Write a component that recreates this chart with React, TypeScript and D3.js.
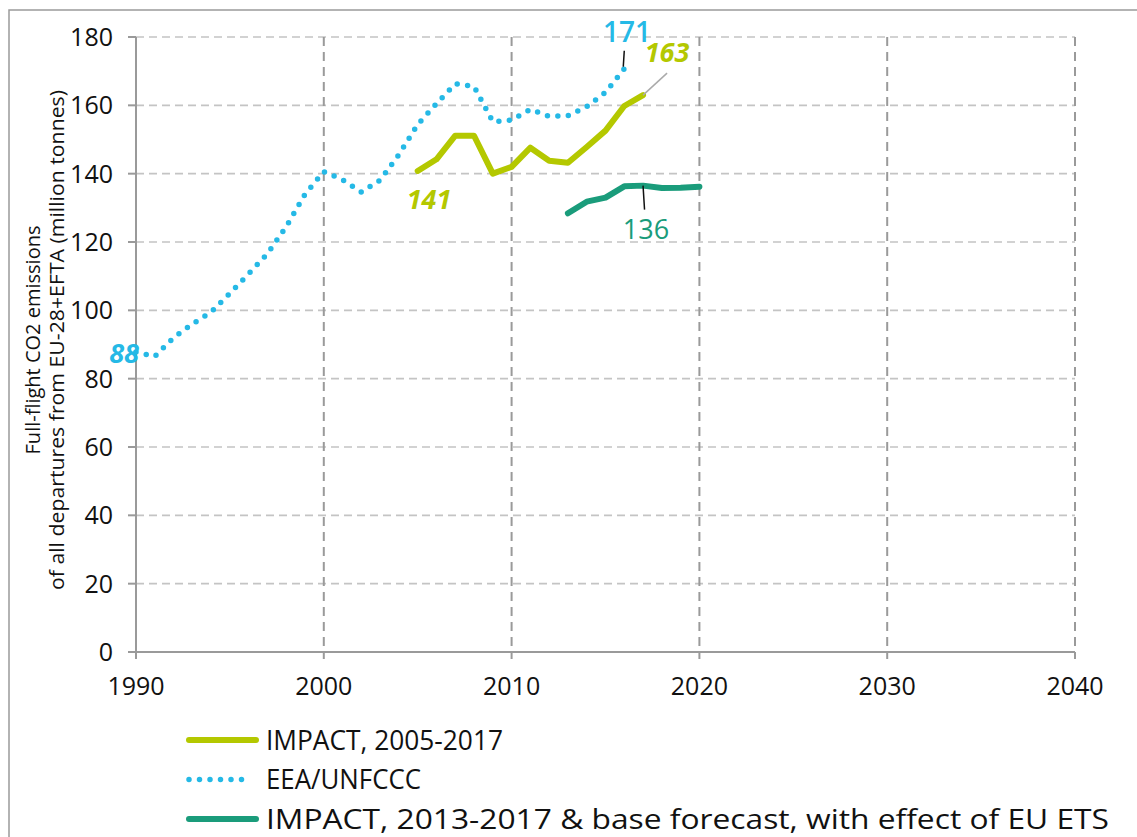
import React from "react";
import * as d3 from "d3";

const eeaYears = [1990,1991,1992,1993,1994,1995,1996,1997,1998,1999,2000,2001,2002,2003,2004,2005,2006,2007,2008,2009,2010,2011,2012,2013,2014,2015,2016];
const eeaValues = [87.8,86.5,92,96,99.5,105,110.7,116.6,124.5,134,140.6,138.2,134.6,138.1,145.6,154.4,160.5,166.3,165.5,155.2,155.7,158.8,156.8,157,159.6,163.8,170.7];

const impactYears = [2005,2006,2007,2008,2009,2010,2011,2012,2013,2014,2015,2016,2017];
const impactValues = [140.8,144.2,151.1,151.1,140,142,147.6,143.8,143.2,147.8,152.6,159.8,163];

const forecastYears = [2013,2014,2015,2016,2017,2018,2019,2020];
const forecastValues = [128.4,131.8,133,136.3,136.5,135.8,135.9,136.2];

const yTicks = [0,20,40,60,80,100,120,140,160,180];
const xTicks = [1990,2000,2010,2020,2030,2040];

const LIME = "#b4c800";
const CYAN = "#25b9e6";
const TEAL = "#1a9c7b";
const FONT = "'Open Sans', 'Noto Sans', sans-serif";

const legendItems = [
  { label: "IMPACT, 2005-2017", color: LIME, dotted: false, len: 237 },
  { label: "EEA/UNFCCC", color: CYAN, dotted: true, len: 155 },
  { label: "IMPACT, 2013-2017 & base forecast, with effect of EU ETS", color: TEAL, dotted: false, len: 843 },
];

export default function App() {
  const x = d3.scaleLinear().domain([1990, 2040]).range([136, 1075]);
  const y = d3.scaleLinear().domain([0, 180]).range([652, 37]);
  const line = d3.line<[number, number]>().x(d => x(d[0])).y(d => y(d[1]));

  const eea = line(eeaYears.map((yr, i) => [yr, eeaValues[i]]))!;
  const imp = line(impactYears.map((yr, i) => [yr, impactValues[i]]))!;
  const fc = line(forecastYears.map((yr, i) => [yr, forecastValues[i]]))!;

  const lastEea = eeaValues[eeaValues.length - 1];
  const lastImp = impactValues[impactValues.length - 1];

  return (
    <div style={{ position: "absolute", left: 0, top: 0 }}>
      <svg width={1137} height={837} style={{ display: "block", fontFamily: FONT }}>
        <rect x={0} y={0} width={1137} height={837} fill="#fff" />
        <rect x={9} y={10} width={1200} height={900} fill="none" stroke="#9a9a9a" strokeWidth={1.5} />

        {/* horizontal gridlines */}
        {yTicks.filter(t => t > 0).map(t => (
          <line key={"hg" + t} x1={x(1990)} x2={x(2040)} y1={y(t)} y2={y(t)}
            stroke="#c4c4c4" strokeWidth={1.6} strokeDasharray="8 5" />
        ))}
        {/* vertical gridlines */}
        {xTicks.filter(t => t > 1990).map(t => (
          <line key={"vg" + t} x1={x(t)} x2={x(t)} y1={y(180)} y2={y(0)}
            stroke="#9a9a9a" strokeWidth={2} strokeDasharray="9 6" />
        ))}

        {/* axes */}
        <line x1={x(1990)} x2={x(1990)} y1={y(180)} y2={y(0) + 7} stroke="#9a9a9a" strokeWidth={2} />
        <line x1={x(1990) - 8} x2={x(2040)} y1={y(0)} y2={y(0)} stroke="#9a9a9a" strokeWidth={2} />
        {yTicks.map(t => (
          <line key={"yt" + t} x1={x(1990) - 8} x2={x(1990)} y1={y(t)} y2={y(t)} stroke="#9a9a9a" strokeWidth={2} />
        ))}
        {xTicks.map(t => (
          <line key={"xt" + t} x1={x(t)} x2={x(t)} y1={y(0)} y2={y(0) + 7} stroke="#9a9a9a" strokeWidth={2} />
        ))}

        {/* tick labels */}
        {yTicks.map(t => (
          <text key={"yl" + t} x={113} y={y(t)} dy="0.36em" textAnchor="end" fontSize={25} fill="#111">{t}</text>
        ))}
        {xTicks.map(t => (
          <text key={"xl" + t} x={x(t)} y={695} textAnchor="middle" fontSize={25} fill="#111">{t}</text>
        ))}

        {/* y axis title */}
        <g transform="translate(33,340) rotate(-90)">
          <text x={0} y={0} textAnchor="middle" dy="0.35em" fontSize={20} fill="#111">Full-flight CO2 emissions</text>
          <text x={0} y={24} textAnchor="middle" dy="0.35em" fontSize={20.5} fill="#111"
            textLength={500} lengthAdjust="spacingAndGlyphs">of all departures from EU-28+EFTA (million tonnes)</text>
        </g>

        {/* series */}
        <path d={eea} fill="none" stroke={CYAN} strokeWidth={5.5} strokeLinecap="round" strokeDasharray="0 10.5" />
        <path d={imp} fill="none" stroke={LIME} strokeWidth={6} strokeLinejoin="round" strokeLinecap="round" />
        <path d={fc} fill="none" stroke={TEAL} strokeWidth={6} strokeLinejoin="round" strokeLinecap="round" />

        {/* leader lines */}
        <line x1={x(2016) - 1} x2={x(2016)} y1={y(lastEea) - 2} y2={y(lastEea) - 18} stroke="#111" strokeWidth={1.5} />
        <line x1={x(2017)} x2={x(2017) + 24} y1={y(lastImp)} y2={y(lastImp) - 22} stroke="#aaa" strokeWidth={1.5} />
        <line x1={x(2017)} x2={x(2017) + 1.5} y1={y(136.5)} y2={y(136.5) + 24} stroke="#111" strokeWidth={1.5} />

        {/* data labels */}
        <text x={627} y={42} textAnchor="middle" fontSize={28} fontWeight={600} fill={CYAN}>171</text>
        <text x={667} y={62} textAnchor="middle" fontSize={27} fontWeight="bold" fontStyle="italic" fill={LIME}>163</text>
        <text x={429} y={209} textAnchor="middle" fontSize={27} fontWeight="bold" fontStyle="italic" fill={LIME}>141</text>
        <text x={646} y={239} textAnchor="middle" fontSize={27} fill={TEAL}>136</text>
        <text x={124} y={363} textAnchor="middle" fontSize={27} fontWeight="bold" fontStyle="italic" fill={CYAN}>88</text>

        {/* legend */}
        {legendItems.map((it, i) => {
          const ly = 740 + i * 39.5;
          return (
            <g key={"lg" + i}>
              {it.dotted ? (
                <line x1={189} x2={243} y1={ly} y2={ly} stroke={it.color} strokeWidth={5.5} strokeLinecap="round" strokeDasharray="0 10.5" />
              ) : (
                <line x1={189} x2={256} y1={ly} y2={ly} stroke={it.color} strokeWidth={6} strokeLinecap="round" />
              )}
              <text x={266} y={ly} dy="0.36em" fontSize={27} fill="#111"
                textLength={it.len} lengthAdjust="spacingAndGlyphs">{it.label}</text>
            </g>
          );
        })}
      </svg>
    </div>
  );
}
